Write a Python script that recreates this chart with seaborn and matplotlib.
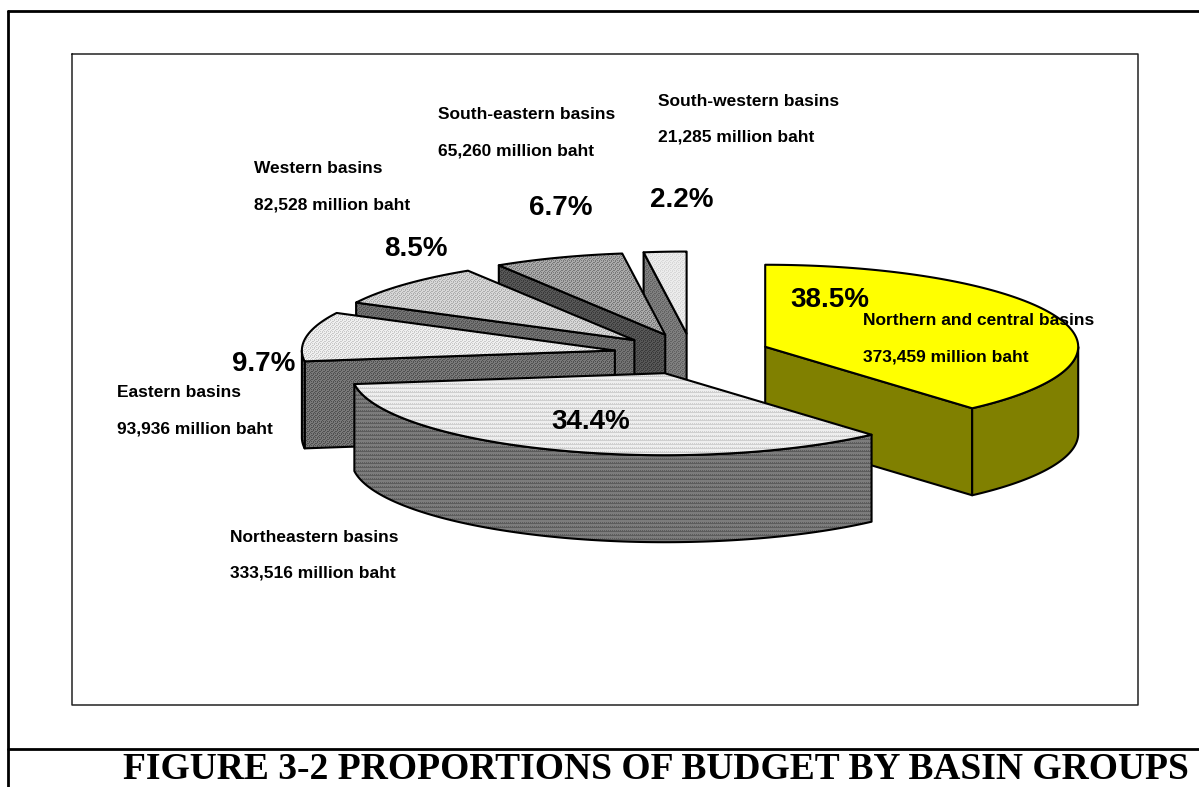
import numpy as np
import matplotlib
matplotlib.use("Agg")
import matplotlib.pyplot as plt
from matplotlib.patches import Polygon
import seaborn as sns

# Budget by basin group, million baht
basins = ["Northern and central basins", "Northeastern basins", "Eastern basins",
          "Western basins", "South-eastern basins", "South-western basins"]
budget = [373459, 333516, 93936, 82528, 65260, 21285]

# Two-tone fills for the top and wall of each slice
top_light = ["#ffff00", "#eeeeee", "#f0f0f0", "#d8d8d8", "#ababab", "#ececec"]
top_dark = ["#ffff00", "#cfcfcf", "#cacaca", "#adadad", "#787878", "#d8d8d8"]
wall_light = ["#808000", "#7c7c7c", "#7a7a7a", "#747474", "#585858", "#808080"]
wall_dark = ["#808000", "#5c5c5c", "#505050", "#525252", "#3a3a3a", "#626262"]
tile_kind = ["solid", "stripes", "stipple", "stipple", "stipple", "stipple"]
draw_rank = [0, 5, 4, 3, 2, 1]

# Text placement (left x, baseline y) for each group
name_xy = [(863, 325), (230, 542), (117, 397), (254, 173), (438, 119), (658, 106)]
amount_xy = [(863, 361), (230, 578), (117, 433), (254, 209), (438, 155), (658, 142)]
pct_xy = [(790, 307), (551, 429), (232, 371), (384, 256), (529, 215), (650, 207)]

# Pie projection
CENTER_X, CENTER_Y = 692.0, 354.0
RX, RY, DEPTH = 313.0, 82.0, 87.0
EXPLODE = 0.25

TILES = {
    "solid": np.array([[1]]),
    "stripes": np.array([[1, 1, 1, 1], [1, 1, 1, 1], [0, 1, 0, 1], [0, 0, 0, 0]]),
    "stipple": np.array([[1, 0, 1, 1], [0, 1, 1, 0], [1, 1, 0, 1], [1, 0, 1, 0]]),
}

sns.set_theme(style="white")
plt.rcParams["font.family"] = ["Liberation Sans", "DejaVu Sans"]

fig = plt.figure(figsize=(11.99, 7.87), dpi=100, facecolor="white")
ax = fig.add_axes([0, 0, 1, 1])
ax.set_axis_off()


def rim(cx, cy, a0, a1, drop=0.0):
    """Points on the projected circle between two clockwise-from-north angles."""
    t = np.radians(np.linspace(a0, a1, 120))
    return np.column_stack([cx + RX * np.sin(t), cy - RY * np.cos(t) + drop])


def shade(points, kind, light, dark, z):
    """Draw a closed face with a two-tone pixel texture and a black outline."""
    outline = Polygon(points, closed=True, facecolor="none", edgecolor="black",
                      linewidth=1.5, joinstyle="round", zorder=z + 0.2)
    clip = Polygon(points, closed=True, transform=ax.transData)
    tile = TILES[kind]
    x0, y0 = np.floor(points.min(axis=0)).astype(int)
    x1, y1 = np.ceil(points.max(axis=0)).astype(int)
    w, h = max(x1 - x0, 1), max(y1 - y0, 1)
    rows = np.tile(tile, (h // tile.shape[0] + 1, w // tile.shape[1] + 1))[:h, :w]
    lo, hi = matplotlib.colors.to_rgb(dark), matplotlib.colors.to_rgb(light)
    rgb = np.where(rows[..., None] == 1, np.array(hi), np.array(lo))
    ax.imshow(rgb, extent=(x0, x1, y1, y0), interpolation="nearest", aspect="auto",
              clip_path=clip, zorder=z)
    ax.add_patch(outline)


total = sum(budget)
edges = np.concatenate([[0.0], np.cumsum(budget)]) / total * 360.0

for i in range(len(budget)):
    a0, a1 = edges[i], edges[i + 1]
    mid = np.radians((a0 + a1) / 2)
    cx = CENTER_X + EXPLODE * RX * np.sin(mid)
    cy = CENTER_Y - EXPLODE * RY * np.cos(mid)
    apex = np.array([cx, cy])
    z = 10 * (draw_rank[i] + 1)
    kind = tile_kind[i]

    # Cut faces turned towards the viewer
    for angle, facing in ((a0, np.sin(np.radians(a0)) < -1e-6),
                          (a1, np.sin(np.radians(a1)) > 1e-6)):
        if facing:
            outer = rim(cx, cy, angle, angle)[0]
            face = np.array([apex, outer, outer + [0, DEPTH], apex + [0, DEPTH]])
            shade(face, kind, wall_light[i], wall_dark[i], z)

    # Outer wall on the near half of the circle
    lo, hi = max(a0, 90.0), min(a1, 270.0)
    if hi > lo:
        upper = rim(cx, cy, lo, hi)
        lower = rim(cx, cy, lo, hi, DEPTH)[::-1]
        shade(np.vstack([upper, lower]), kind, wall_light[i], wall_dark[i], z + 1)

    # Top surface
    shade(np.vstack([apex, rim(cx, cy, a0, a1)]), kind, top_light[i], top_dark[i], z + 2)

TEXT_Z = 200
for i, name in enumerate(basins):
    ax.text(*name_xy[i], name, fontsize=12.5, fontweight="bold", color="black",
            va="baseline", ha="left", zorder=TEXT_Z)
    ax.text(*amount_xy[i], f"{budget[i]:,} million baht", fontsize=12.5, fontweight="bold",
            color="black", va="baseline", ha="left", zorder=TEXT_Z)
    ax.text(*pct_xy[i], f"{budget[i] / total * 100:.1f}%", fontsize=20, fontweight="bold",
            color="black", va="baseline", ha="left", zorder=TEXT_Z)

# Chart box and page rules
ax.plot([72, 1138, 1138, 72, 72], [53.5, 53.5, 705, 705, 53.5], color="#222222", lw=1.1, zorder=1)
ax.plot([8, 8], [11, 787], color="black", lw=2.0, zorder=1)
ax.plot([8, 1199], [11, 11], color="black", lw=2.0, zorder=1)
ax.plot([8, 1199], [748.5, 748.5], color="black", lw=2.0, zorder=1)

ax.text(123, 779, "FIGURE 3-2 PROPORTIONS OF BUDGET BY BASIN GROUPS", fontsize=27.0,
        fontweight="bold", family=["Liberation Serif", "DejaVu Serif"], color="black",
        va="baseline", ha="left", zorder=TEXT_Z)

ax.set_xlim(0, 1199)
ax.set_ylim(787, 0)

fig.savefig("out.png", dpi=100, facecolor="white")
